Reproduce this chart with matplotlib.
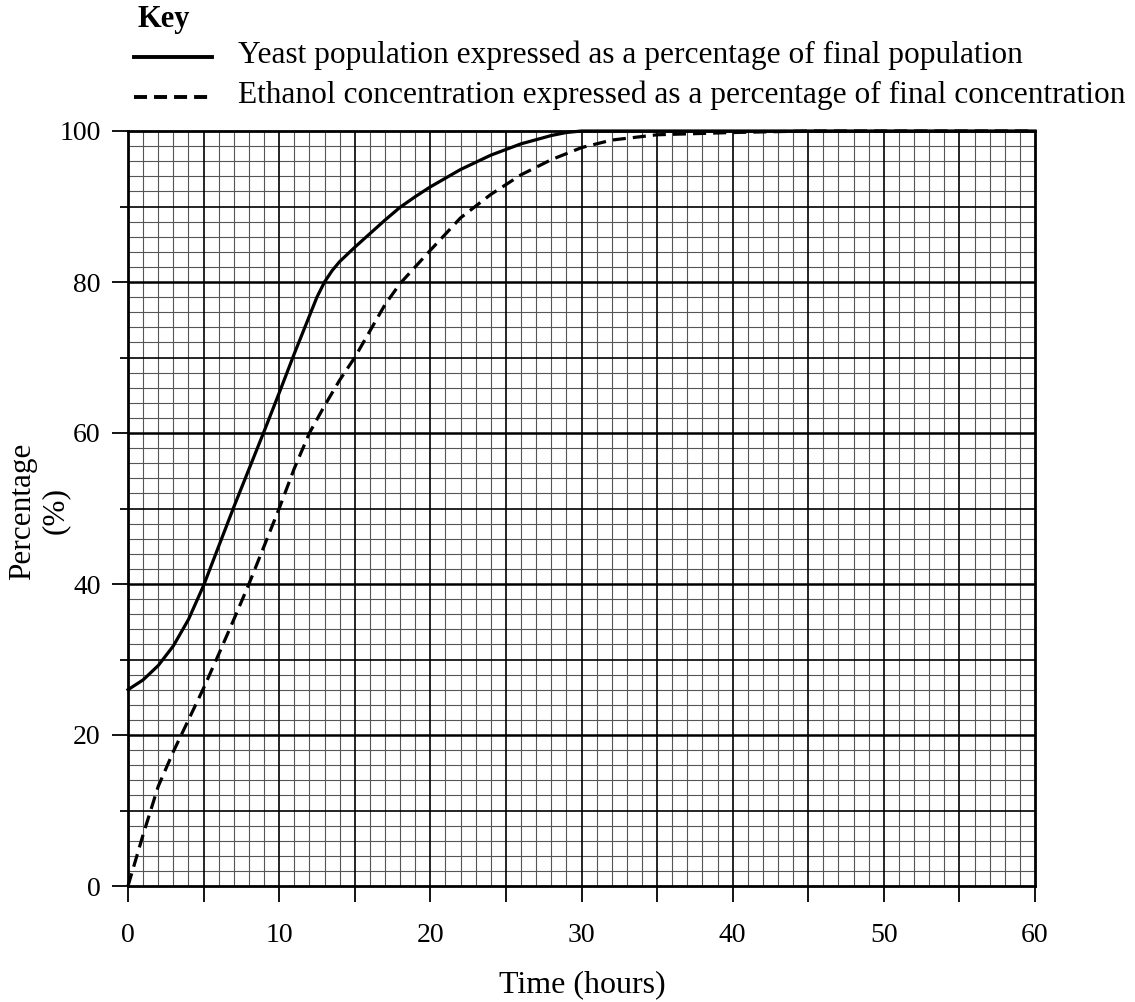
import numpy as np
import matplotlib
matplotlib.use("Agg")
import matplotlib.pyplot as plt
from matplotlib.lines import Line2D

plt.rcParams['font.family'] = ['Liberation Serif', 'DejaVu Serif']

# values
yeast_t = [0, 1, 2, 3, 4, 5, 6, 7, 8, 9, 10, 11, 12, 12.5, 13, 13.5, 14, 15,
           16, 17, 18, 19, 20, 22, 24, 26, 28, 29, 30, 40, 50, 60]
yeast_pct = [26, 27.3, 29.2, 31.8, 35.3, 39.8, 45, 50.2, 55.2, 60.2, 65.3,
             70.5, 75.5, 78, 80, 81.5, 82.7, 84.6, 86.4, 88.2, 89.9, 91.3,
             92.6, 94.9, 96.8, 98.3, 99.4, 99.8, 100, 100, 100, 100]

ethanol_t = [0, 1, 2, 3, 4, 5, 6, 7, 8, 9, 10, 11, 12, 13, 14, 15, 16, 17, 18,
             19, 20, 22, 24, 26, 28, 30, 32, 35, 40, 45, 50, 60]
ethanol_pct = [0, 6.8, 13.2, 17.8, 22, 26.2, 30.7, 35.3, 40, 45, 50, 55.3, 60,
               63.6, 67, 70, 73.5, 77, 79.8, 82, 84.2, 88.5, 91.6, 94.2, 96.2,
               97.8, 98.8, 99.5, 99.8, 100, 100, 100]

x_ticklabels = [0, 10, 20, 30, 40, 50, 60]
y_ticklabels = [0, 20, 40, 60, 80, 100]

fig = plt.figure(figsize=(11.35, 10.02), dpi=100)
ax = fig.add_axes([128 / 1135, 116 / 1002, 907 / 1135, 755 / 1002])
ax.set_xlim(0, 60)
ax.set_ylim(0, 100)

# graph paper grid
for v in np.arange(1, 60):
    if v % 5:
        ax.axvline(v, color='#555555', lw=0.8, zorder=1)
    else:
        ax.axvline(v, color='black', lw=1.2, zorder=1.5)
for v in np.arange(2, 100, 2):
    if v % 20 == 0:
        ax.axhline(v, color='black', lw=1.8, zorder=1.5)
    elif v % 10 == 0:
        ax.axhline(v, color='black', lw=1.2, zorder=1.5)
    else:
        ax.axhline(v, color='#555555', lw=0.8, zorder=1)

for s in ax.spines.values():
    s.set_linewidth(2)

ax.plot(yeast_t, yeast_pct, color='black', lw=2.3, solid_joinstyle='round',
        clip_on=False, zorder=3)
ax.plot(ethanol_t, ethanol_pct, color='black', lw=2.3, dashes=(4.1, 2.2),
        clip_on=False, zorder=3)

ax.set_xticks(np.arange(0, 61, 5))
ax.set_xticklabels([str(v) if v in x_ticklabels else '' for v in range(0, 61, 5)])
ax.set_yticks(y_ticklabels)
ax.set_yticks(np.arange(10, 100, 20), minor=True)
ax.tick_params(axis='x', direction='out', length=11.3, width=1.3, pad=15.5,
               labelsize=20)
ax.tick_params(axis='y', which='major', direction='out', length=11.7, width=1.3,
               pad=8, labelsize=20)
ax.tick_params(axis='y', which='minor', direction='out', length=5.8, width=1.3)

fig.text(582 / 1135, 1 - 985 / 1002, 'Time (hours)', ha='center', va='center',
         fontsize=23)
fig.text(39 / 1135, 1 - 511 / 1002, 'Percentage\n(%)', ha='center', va='center',
         rotation=90, fontsize=22.5, multialignment='center', linespacing=1.15)

# key
fig.text(137 / 1135, 1 - 19 / 1002, 'Key', ha='left', va='center',
         fontsize=22, fontweight='bold')
fig.add_artist(Line2D([134 / 1135, 212 / 1135], [1 - 57 / 1002, 1 - 57 / 1002],
                      color='black', lw=2.8))
fig.add_artist(Line2D([134 / 1135, 212 / 1135], [1 - 97 / 1002, 1 - 97 / 1002],
                      color='black', lw=2.8, dashes=(3.35, 1.8)))
fig.text(238 / 1135, 1 - 55 / 1002,
         'Yeast population expressed as a percentage of final population',
         ha='left', va='center', fontsize=22.6)
fig.text(238 / 1135, 1 - 95 / 1002,
         'Ethanol concentration expressed as a percentage of final concentration',
         ha='left', va='center', fontsize=22.6)

fig.savefig('out.png', dpi=100)
